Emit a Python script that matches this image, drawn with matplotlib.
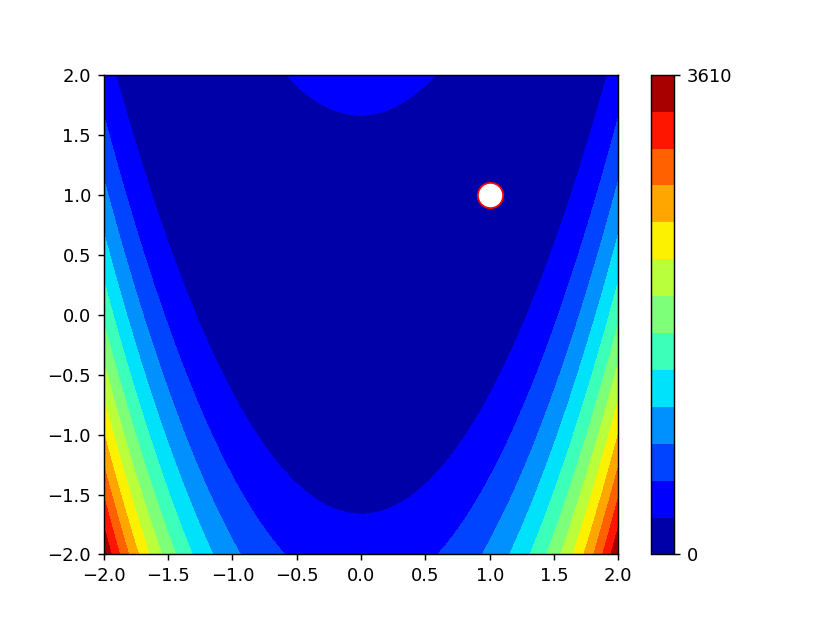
import numpy as np
import matplotlib
matplotlib.use('Agg')
from matplotlib import pyplot as plt

# Rosenbrock surface parameters
a, b = 1, 100
x_range = [-2.0, 2.0]
y_range = [-2.0, 2.0]
z_min, z_max = 0, 3610
n_levels = 14
minimum = [1.0, 1.0]

x = np.linspace(x_range[0], x_range[1], 500)
y = np.linspace(y_range[0], y_range[1], 500)
X, Y = np.meshgrid(x, y)
Z = (a - X) ** 2 + b * (Y - X ** 2) ** 2

levels = np.linspace(z_min, z_max, n_levels)

fig = plt.figure(dpi=130, figsize=(830 / 130, 623 / 130))
cs = plt.contourf(X, Y, Z, levels=levels, cmap='jet')
plt.plot(minimum[0], minimum[1], 'o', color='white', markeredgecolor='red', markersize=14)
cb = plt.colorbar(cs)
cb.set_ticks([z_min, z_max])
plt.savefig('out.png')
